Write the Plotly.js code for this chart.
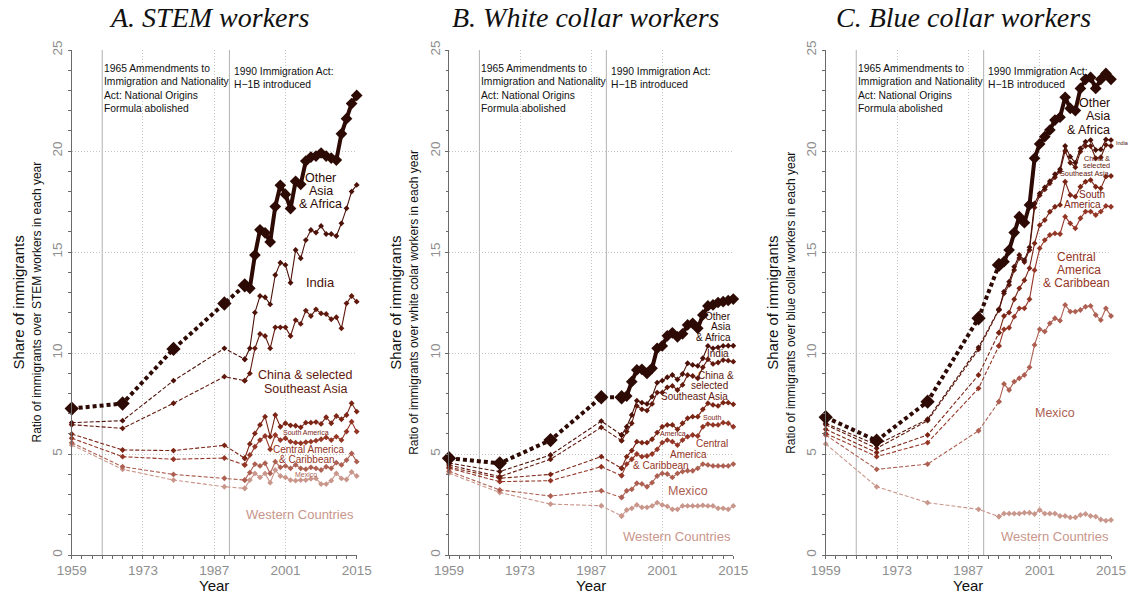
<!DOCTYPE html>
<html><head><meta charset="utf-8">
<script src="https://cdn.plot.ly/plotly-3.0.1.min.js"></script>
<style>html,body{margin:0;padding:0;background:#fff}</style>
</head><body><div id="chart" style="width:1132px;height:602px"></div>
<script>
// ---------------- DATA ----------------
const censusYears = [1959, 1969, 1979, 1989];
const annualYears = [1993, 1994, 1995, 1996, 1997, 1998, 1999, 2000, 2001, 2002, 2003, 2004, 2005, 2006, 2007, 2008, 2009, 2010, 2011, 2012, 2013, 2014, 2015];
const xTickVals = [1959, 1973, 1987, 2001, 2015];
const xTickText = ["1959", "1973", "1987", "2001", "2015"];
const yTickVals = [0, 5, 10, 15, 20, 25];
const yTickText = ["0", "5", "10", "15", "20", "25"];
const panelTitles = ["A. STEM workers", "B. White collar workers", "C. Blue collar workers"];
const panelYTitles = ["Ratio of immigrants over STEM workers in each year",
                      "Ratio of immigrants over white colar workers in each year",
                      "Ratio of immigrants over blue collar workers in each year"];
const regionNames = ["Other Asia & Africa", "India", "China & selected Southeast Asia", "South America",
                     "Central America & Caribbean", "Mexico", "Western Countries"];
const eventYears = [1965, 1990];
const eventNotes = ["1965 Ammendments to<br>Immigration and Nationality<br>Act: National Origins<br>Formula abolished",
                    "1990 Immigration Act:<br>H\u22121B introduced"];

// Panel A: STEM workers (census 1959-1989, then annual 1993-2015)
const stemOther   = [7.25, 7.5, 10.2, 12.45, 13.35, 13.2, 14.85, 16.1, 15.95, 15.5, 17.25, 18.3, 17.85, 17.15, 18.5, 18.35, 19.5, 19.7, 19.75, 19.9, 19.75, 19.65, 19.55, 20.85, 21.6, 22.35, 22.75];
const stemIndia   = [6.55, 6.65, 8.63, 10.23, 9.69, 10.23, 12.0, 12.82, 12.76, 12.41, 13.86, 14.47, 14.36, 13.48, 15.1, 14.69, 15.59, 16.09, 15.96, 16.29, 15.89, 15.89, 15.79, 16.42, 17.16, 17.99, 18.32];
const stemChina   = [6.45, 6.27, 7.51, 8.83, 8.63, 8.99, 10.23, 10.94, 10.84, 10.23, 11.27, 11.27, 11.27, 10.84, 11.63, 11.44, 12.1, 11.83, 12.16, 11.96, 11.93, 11.67, 11.77, 11.22, 12.46, 12.82, 12.54];
const stemSouthAm = [5.99, 5.2, 5.17, 5.43, 4.79, 5.5, 6.02, 6.44, 6.85, 5.86, 6.93, 6.35, 6.52, 6.42, 6.4, 6.32, 6.55, 6.55, 6.58, 6.49, 6.82, 6.52, 6.88, 6.72, 6.93, 7.51, 7.1];
const stemCentAm  = [5.78, 4.87, 4.74, 4.8, 4.46, 4.95, 5.36, 5.69, 5.89, 5.23, 5.94, 5.69, 5.78, 5.61, 5.56, 5.53, 5.58, 5.61, 5.66, 5.73, 5.82, 5.69, 5.86, 5.69, 6.11, 6.6, 6.11];
const stemMexico  = [5.56, 4.37, 3.99, 3.8, 3.71, 4.08, 4.5, 4.41, 4.54, 4.04, 4.62, 4.34, 4.41, 4.29, 4.46, 4.29, 4.25, 4.34, 4.29, 4.21, 4.37, 4.29, 4.57, 4.46, 4.7, 5.03, 4.62];
const stemWestern = [5.45, 4.24, 3.71, 3.38, 3.3, 3.71, 4.04, 3.84, 4.04, 3.58, 4.21, 3.91, 3.84, 3.71, 3.68, 3.71, 3.71, 3.77, 3.79, 3.51, 3.51, 3.68, 4.04, 3.79, 3.74, 4.11, 3.91];

// Panel B: White collar workers
const whiteOther   = [4.79, 4.54, 5.69, 7.81, 7.81, 7.87, 8.58, 9.16, 9.19, 8.99, 9.24, 10.23, 10.35, 10.85, 11.0, 10.8, 10.95, 11.39, 11.47, 11.22, 11.88, 12.33, 12.38, 12.5, 12.54, 12.6, 12.67];
const whiteIndia   = [4.55, 4.13, 4.95, 6.63, 5.94, 6.35, 6.93, 7.64, 7.54, 7.48, 7.84, 8.53, 8.63, 8.8, 8.91, 8.69, 8.96, 9.49, 9.41, 9.36, 9.74, 10.35, 10.23, 10.28, 10.35, 10.36, 10.36];
const whiteChina   = [4.45, 3.88, 4.74, 6.32, 5.66, 6.11, 6.52, 7.38, 7.21, 7.15, 7.48, 8.04, 8.04, 8.3, 8.37, 8.17, 8.42, 8.91, 8.86, 8.75, 9.29, 9.69, 9.46, 9.53, 9.65, 9.62, 9.57];
const whiteSouthAm = [4.35, 3.8, 3.99, 4.87, 4.29, 4.87, 5.17, 5.61, 5.56, 5.56, 5.73, 6.06, 6.35, 6.44, 6.44, 6.22, 6.52, 6.77, 6.85, 6.85, 7.21, 7.51, 7.43, 7.38, 7.54, 7.54, 7.46];
const whiteCentAm  = [4.3, 3.63, 3.68, 4.37, 3.93, 4.5, 4.74, 5.0, 4.87, 4.9, 5.0, 5.23, 5.56, 5.69, 5.61, 5.44, 5.69, 5.86, 5.94, 5.89, 6.35, 6.48, 6.44, 6.44, 6.55, 6.52, 6.35];
const whiteMexico  = [4.15, 3.22, 2.92, 3.18, 2.85, 3.18, 3.25, 3.55, 3.52, 3.38, 3.58, 3.91, 4.04, 4.01, 3.84, 4.04, 4.13, 4.17, 4.17, 4.29, 4.5, 4.46, 4.41, 4.41, 4.41, 4.41, 4.5];
const whiteWestern = [4.05, 3.09, 2.52, 2.44, 1.93, 2.23, 2.31, 2.48, 2.36, 2.36, 2.43, 2.59, 2.48, 2.41, 2.26, 2.26, 2.43, 2.43, 2.43, 2.43, 2.46, 2.43, 2.43, 2.31, 2.31, 2.26, 2.43];

// Panel C: Blue collar workers
const blueOther   = [6.82, 5.66, 7.59, 11.72, 14.36, 14.52, 15.1, 15.96, 16.75, 16.45, 17.33, 19.64, 20.35, 20.71, 21.04, 21.53, 21.67, 22.66, 22.11, 22.0, 23.1, 23.55, 23.64, 23.1, 23.55, 23.84, 23.55];
const blueIndia   = [6.52, 5.45, 6.72, 10.28, 12.16, 13.04, 13.53, 14.27, 14.85, 14.6, 15.23, 17.4, 17.9, 18.2, 18.5, 18.85, 19.1, 20.25, 19.72, 19.42, 20.13, 20.46, 20.54, 20.05, 20.08, 20.57, 20.54];
const blueChina   = [6.45, 5.28, 6.65, 10.18, 12.13, 12.95, 13.37, 14.11, 14.7, 14.5, 15.1, 17.2, 17.8, 18.1, 18.4, 18.7, 19.0, 20.0, 19.42, 19.19, 19.97, 20.25, 20.25, 19.64, 19.69, 20.3, 20.25];
const blueSouthAm = [6.22, 5.07, 5.94, 8.91, 11.0, 11.83, 12.0, 12.66, 13.2, 13.6, 14.2, 15.43, 16.33, 16.58, 16.99, 17.24, 17.33, 18.48, 17.82, 17.74, 18.23, 18.48, 18.56, 18.23, 18.15, 18.73, 18.76];
const blueCentAm  = [6.02, 4.87, 5.56, 8.25, 10.35, 11.17, 11.25, 11.8, 12.21, 12.21, 12.66, 14.1, 15.18, 15.59, 15.84, 15.92, 15.89, 16.75, 16.42, 16.17, 16.67, 17.0, 17.0, 16.83, 17.0, 17.28, 17.24];
const blueMexico  = [5.94, 4.24, 4.5, 6.15, 7.59, 8.47, 8.17, 8.58, 8.75, 8.91, 9.29, 10.4, 11.17, 11.06, 11.47, 11.72, 11.6, 12.38, 12.05, 12.05, 12.13, 12.29, 12.33, 11.88, 11.63, 12.21, 11.83];
const blueWestern = [5.5, 3.38, 2.59, 2.26, 1.9, 2.05, 2.05, 2.05, 2.05, 2.09, 2.09, 2.03, 2.23, 2.05, 2.05, 2.05, 1.93, 1.93, 1.86, 1.86, 1.98, 2.03, 1.93, 1.9, 1.76, 1.7, 1.73];

const panels = [
  [stemOther, stemIndia, stemChina, stemSouthAm, stemCentAm, stemMexico, stemWestern],
  [whiteOther, whiteIndia, whiteChina, whiteSouthAm, whiteCentAm, whiteMexico, whiteWestern],
  [blueOther, blueIndia, blueChina, blueSouthAm, blueCentAm, blueMexico, blueWestern]
];

// ---------------- STYLE ----------------
const W = 1132, H = 602;
const colors = ["#2e0a04", "#4c1108", "#62190d", "#7b2515", "#943626", "#ad6052", "#c9968b"];
const FONT = "Liberation Sans, Arial, Helvetica, sans-serif";
const px = x => x / W;
const py = y => 1 - y / H;
const xDomains = [[71.7, 356.7], [449, 733.3], [825.7, 1111]];
const yDomain = [py(555), py(50)];
const panelShift = [0, 377.3, 754.3];

const traces = [];
panels.forEach((series, p) => {
  const xa = p === 0 ? "x" : "x" + (p + 1);
  const ya = p === 0 ? "y" : "y" + (p + 1);
  for (let i = series.length - 1; i >= 0; i--) {
    const vals = series[i];
    const big = i === 0;
    const dashedX = censusYears.concat([annualYears[0]]);
    const dashedY = vals.slice(0, censusYears.length + 1);
    const solidY = vals.slice(censusYears.length);
    traces.push({
      type: "scatter", mode: "lines+markers", xaxis: xa, yaxis: ya, cliponaxis: false,
      x: dashedX, y: dashedY, name: regionNames[i], showlegend: false, hoverinfo: "skip",
      line: {color: colors[i], width: big ? 4 : 1.1, dash: big ? "4px,3px" : "4px,2px"},
      marker: {symbol: "diamond", size: big ? 11 : 4.5, color: colors[i]}
    });
    traces.push({
      type: "scatter", mode: "lines+markers", xaxis: xa, yaxis: ya, cliponaxis: false,
      x: annualYears, y: solidY, name: regionNames[i], showlegend: false, hoverinfo: "skip",
      line: {color: colors[i], width: big ? 4 : 1.1},
      marker: {symbol: "diamond", size: big ? 9 : 4.5, color: colors[i]}
    });
  }
});

function xAxis(p) {
  return {
    domain: [px(xDomains[p][0]), px(xDomains[p][1])], anchor: p === 0 ? "y" : "y" + (p + 1),
    range: [1959, 2015], tickmode: "array", tickvals: xTickVals, ticktext: xTickText,
    showline: true, linecolor: "#6a6a6a", linewidth: 1, ticks: "outside", ticklen: 3, tickcolor: "#6a6a6a",
    tickfont: {family: FONT, size: 13.5, color: "#8e8e8e"},
    showgrid: true, gridcolor: "#c4c4c4", griddash: "1px,2px", gridwidth: 1, zeroline: false, fixedrange: true,
    minor: {tick0: 1959, dtick: 2, ticks: "outside", ticklen: 2.5, tickcolor: "#6a6a6a", showgrid: false}
  };
}
function yAxis(p) {
  return {
    domain: yDomain, anchor: p === 0 ? "x" : "x" + (p + 1),
    range: [0, 25], tickmode: "array", tickvals: yTickVals, ticktext: yTickText, tickangle: -90,
    showline: true, linecolor: "#6a6a6a", linewidth: 1, ticks: "outside", ticklen: 3, tickcolor: "#6a6a6a",
    tickfont: {family: FONT, size: 13.5, color: "#8e8e8e"},
    showgrid: true, gridcolor: "#c4c4c4", griddash: "1px,2px", gridwidth: 1, zeroline: false, fixedrange: true,
    minor: {tick0: 0, dtick: 1, ticks: "outside", ticklen: 2.5, tickcolor: "#6a6a6a", showgrid: false}
  };
}

const shapes = [];
const annotations = [];
function lab(text, x, y, size, color, anchor) {
  annotations.push({xref: "paper", yref: "paper", x: px(x), y: py(y), text: text, showarrow: false,
    xanchor: anchor || "center", yanchor: "middle", font: {family: FONT, size: size, color: color}});
}

for (let p = 0; p < 3; p++) {
  const xa = p === 0 ? "x" : "x" + (p + 1);
  const ya = p === 0 ? "y" : "y" + (p + 1);
  const s = panelShift[p];
  eventYears.forEach(ey => shapes.push({type: "line", xref: xa, yref: ya, x0: ey, x1: ey, y0: 0, y1: 25,
    layer: "below", line: {color: "#b8b8b8", width: 1.1}}));
  annotations.push({xref: "paper", yref: "paper", x: px((xDomains[p][0] + xDomains[p][1]) / 2 - 5), y: py(18),
    text: "<i>" + panelTitles[p] + "</i>", showarrow: false, xanchor: "center", yanchor: "middle",
    font: {family: "Liberation Serif, Times New Roman, serif", size: 28, color: "#111"}});
  annotations.push({xref: "paper", yref: "paper", x: px(18 + s), y: py(302.5), text: "Share of immigrants",
    textangle: -90, showarrow: false, xanchor: "center", yanchor: "middle", font: {family: FONT, size: 15, color: "#111"}});
  annotations.push({xref: "paper", yref: "paper", x: px(36 + s), y: py(302.5), text: panelYTitles[p],
    textangle: -90, showarrow: false, xanchor: "center", yanchor: "middle", font: {family: FONT, size: 12, color: "#111"}});
  annotations.push({xref: "paper", yref: "paper", x: px((xDomains[p][0] + xDomains[p][1]) / 2), y: py(585), text: "Year",
    showarrow: false, xanchor: "center", yanchor: "middle", font: {family: FONT, size: 15, color: "#111"}});
  annotations.push({xref: xa, yref: "paper", x: eventYears[0], xshift: 0, y: py(88.5), text: eventNotes[0], align: "left",
    showarrow: false, xanchor: "left", yanchor: "middle", font: {family: FONT, size: 10.3, color: "#111"}});
  annotations.push({xref: xa, yref: "paper", x: eventYears[1], xshift: 2.5, y: py(78), text: eventNotes[1], align: "left",
    showarrow: false, xanchor: "left", yanchor: "middle", font: {family: FONT, size: 10.3, color: "#111"}});
}

// Series labels, panel A
lab("Other", 320.6, 177.8, 12.5, colors[0]); lab("Asia", 320.6, 191, 12.5, colors[0]); lab("&amp; Africa", 320.6, 204, 12.5, colors[0]);
lab("India", 320.7, 282.7, 13, colors[1]);
lab("China &amp; selected", 305.5, 375.5, 12.5, colors[2]); lab("Southeast Asia", 305.5, 388.5, 12.5, colors[2]);
lab("South America", 305.7, 432.3, 7, colors[3]);
lab("Central America", 309, 449.3, 10, colors[4]); lab("&amp; Caribbean", 306.7, 459.8, 10, colors[4]);
lab("Mexico", 305.7, 474, 7, colors[5]);
lab("Western Countries", 300, 514.3, 13, colors[6]);
// panel B
lab("Other", 732.5, 316.7, 10, colors[0], "right"); lab("Asia", 732.5, 326.8, 10, colors[0], "right"); lab("&amp; Africa", 732.5, 337.4, 10, colors[0], "right");
lab("India", 730.5, 353.3, 10, colors[1], "right");
lab("China &amp;", 736, 375.5, 10, colors[2], "right"); lab("selected", 729.5, 385.9, 10, colors[2], "right"); lab("Southeast Asia", 729.5, 396.3, 10, colors[2], "right");
lab("South", 711.7, 417.7, 7, colors[3]); lab("America", 673.3, 433.7, 7, colors[3]);
lab("Central", 711.7, 444, 10, colors[4]); lab("America", 688.3, 454.5, 10, colors[4]); lab("&amp; Caribbean", 660.7, 465.9, 10, colors[4]);
lab("Mexico", 687.7, 490.7, 12.5, colors[5]);
lab("Western Countries", 677.3, 536, 13, colors[6]);
// panel C
lab("Other", 1111.5, 103, 12.5, colors[0], "right"); lab("Asia", 1111.5, 116.4, 12.5, colors[0], "right"); lab("&amp; Africa", 1111.5, 129.6, 12.5, colors[0], "right");
lab("India", 1122.7, 142.7, 5.5, colors[1]);
lab("China &amp;", 1111.5, 158, 7.3, colors[2], "right"); lab("selected", 1111.5, 165.8, 7.3, colors[2], "right"); lab("Southeast Asia", 1111.8, 173.6, 7.3, colors[2], "right");
lab("South", 1092.2, 194.3, 10, colors[3]); lab("America", 1082.5, 204.5, 10, colors[3]);
lab("Central", 1076.3, 257.1, 12, colors[4]); lab("America", 1079.2, 270.2, 12, colors[4]); lab("&amp; Caribbean", 1076.7, 283, 12, colors[4]);
lab("Mexico", 1055, 413.3, 12.5, colors[5]);
lab("Western Countries", 1055, 536, 13, colors[6]);

const layout = {
  width: W, height: H, autosize: false, margin: {l: 0, r: 0, t: 0, b: 0},
  paper_bgcolor: "#fff", plot_bgcolor: "rgba(0,0,0,0)", showlegend: false,
  xaxis: xAxis(0), yaxis: yAxis(0), xaxis2: xAxis(1), yaxis2: yAxis(1), xaxis3: xAxis(2), yaxis3: yAxis(2),
  shapes: shapes, annotations: annotations
};
Plotly.newPlot("chart", traces, layout, {displayModeBar: false, staticPlot: true});
</script></body></html>
